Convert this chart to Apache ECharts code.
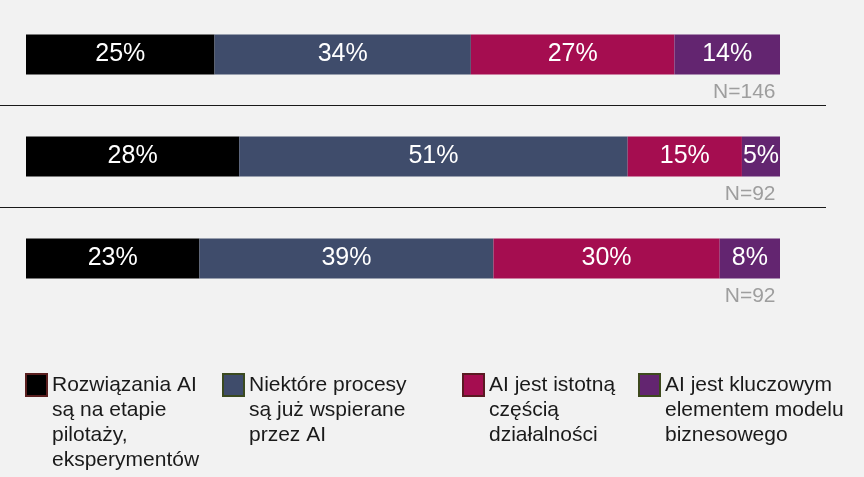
<!DOCTYPE html>
<html>
<head>
<meta charset="utf-8">
<title>AI</title>
<script src="https://cdn.jsdelivr.net/npm/echarts@6/dist/echarts.min.js"></script>
<style>
    html, body {margin: 0; padding: 0; background: #f2f2f2;}
    #main {width: 864px; height: 477px;}
</style>
</head>
<body>
<div id="main"></div>
<script>
// wiersze wykresu (od góry)
const rows = ['Grupa 1', 'Grupa 2', 'Grupa 3'];
const sampleSizes = [146, 92, 92];

const seriesNames = [
    'Rozwiązania AI są na etapie pilotaży, eksperymentów',
    'Niektóre procesy są już wspierane przez AI',
    'AI jest istotną częścią działalności',
    'AI jest kluczowym elementem modelu biznesowego'
];
const legendLines = [
    ['Rozwiązania AI', 'są na etapie', 'pilotaży,', 'eksperymentów'],
    ['Niektóre procesy', 'są już wspierane', 'przez AI'],
    ['AI jest istotną', 'częścią', 'działalności'],
    ['AI jest kluczowym', 'elementem modelu', 'biznesowego']
];

// wartości w % (jak na etykietach)
const piloting = [25, 28, 23];
const someProcesses = [34, 51, 39];
const significant = [27, 15, 30];
const keyElement = [14, 5, 8];

const colors = ['#000000', '#3f4c6b', '#a50d50', '#632570'];
const borderColors = ['#5a1f1f', '#3b4a1f', '#5a1a22', '#3e4a1e'];
const legendLeft = [25, 222, 462, 638];

const font = "'Liberation Sans', Arial, sans-serif";
const lineH = 25;

const allValues = [piloting, someProcesses, significant, keyElement];
const rowSums = rows.map((r, i) => allValues.reduce((s, arr) => s + arr[i], 0));

const barSeries = allValues.map((arr, k) => ({
    name: seriesNames[k],
    type: 'bar',
    stack: 'total',
    barWidth: 40,
    xAxisIndex: 0,
    yAxisIndex: 0,
    itemStyle: {color: colors[k]},
    label: {
        show: true,
        position: 'inside',
        color: '#ffffff',
        fontSize: 25,
        fontFamily: font,
        formatter: p => arr[p.dataIndex] + '%'
    },
    // udział w wierszu, żeby każdy pasek wypełniał całą szerokość
    data: arr.map((v, i) => v / rowSums[i] * 100)
}));

const legends = seriesNames.map((name, k) => {
    const n = legendLines[k].length;
    // tekst legendy jest centrowany na znaczniku, więc puste linie u góry
    // przesuwają pierwszą linię na wysokość znacznika
    const pad = new Array(n - 1).fill(' ');
    return {
        data: [name],
        left: legendLeft[k],
        top: 374 + 11 - (2 * n - 1) * lineH / 2,
        padding: 0,
        orient: 'vertical',
        selectedMode: false,
        itemWidth: 21,
        itemHeight: 22,
        icon: 'rect',
        itemStyle: {borderColor: borderColors[k], borderWidth: 2},
        formatter: () => pad.concat(legendLines[k]).join('\n'),
        textStyle: {
            fontSize: 21,
            fontFamily: font,
            color: '#1a1a1a',
            lineHeight: lineH
        }
    };
});

const chart = echarts.init(document.getElementById('main'));
const option = {
    backgroundColor: '#f2f2f2',
    animation: false,
    legend: legends,
    grid: [
        {left: 26, right: 84, top: 3.5, height: 306},
        {left: 0, right: 38, top: 3.5, height: 306}
    ],
    xAxis: [
        {gridIndex: 0, type: 'value', min: 0, max: 100, show: false},
        {gridIndex: 1, type: 'value', min: 0, max: 1, show: false}
    ],
    yAxis: [
        {
            gridIndex: 0, type: 'category', data: rows, inverse: true,
            axisLine: {show: false}, axisTick: {show: false}, axisLabel: {show: false}
        },
        {
            // linie oddzielające wiersze
            gridIndex: 1, type: 'value', min: 0, max: 3, interval: 1, inverse: true,
            axisLine: {show: false}, axisTick: {show: false}, axisLabel: {show: false},
            splitLine: {
                show: true, showMinLine: false, showMaxLine: false,
                lineStyle: {color: '#1a1a1a', width: 1}
            }
        }
    ],
    series: barSeries.concat([{
        name: 'N',
        type: 'scatter',
        xAxisIndex: 0,
        yAxisIndex: 0,
        symbolSize: 1,
        itemStyle: {color: 'rgba(0,0,0,0)'},
        label: {
            show: true,
            position: 'left',
            distance: 4,
            offset: [0, 38],
            color: '#888888',
            fontSize: 21,
            fontFamily: font,
            formatter: p => 'N=' + sampleSizes[p.dataIndex]
        },
        data: rows.map(r => [100, r])
    }])
};
chart.setOption(option);
</script>
</body>
</html>
